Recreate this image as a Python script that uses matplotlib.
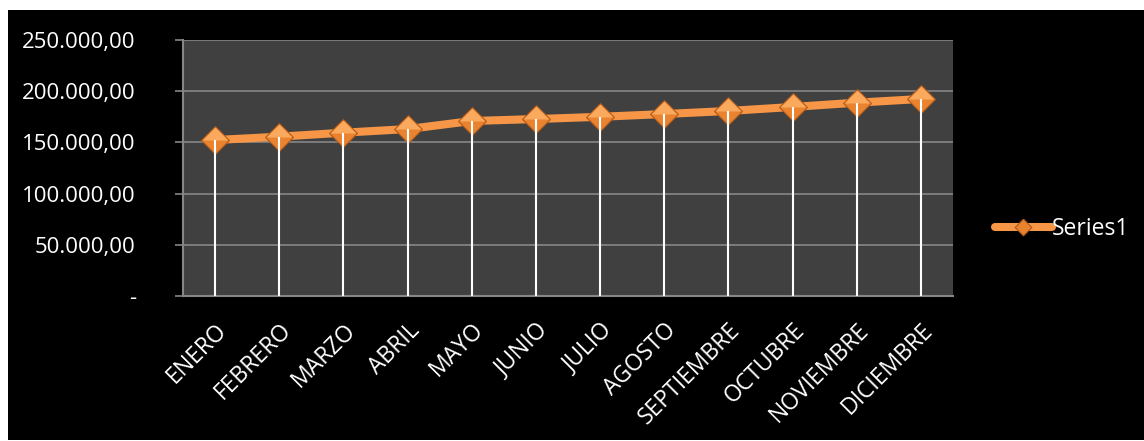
import matplotlib
matplotlib.use("Agg")
import matplotlib.pyplot as plt
from matplotlib.patches import Rectangle
from matplotlib.ticker import FuncFormatter

plt.rcParams['font.family'] = ['Open Sans', 'DejaVu Sans']

meses = ["ENERO", "FEBRERO", "MARZO", "ABRIL", "MAYO", "JUNIO", "JULIO",
         "AGOSTO", "SEPTIEMBRE", "OCTUBRE", "NOVIEMBRE", "DICIEMBRE"]
valores = [152300, 155600, 159500, 163000, 170900, 172800, 175000,
           177700, 180700, 184600, 188800, 192400]
yticks = [0, 50000, 100000, 150000, 200000, 250000]

naranja = '#F79646'
gris = '#868686'


def fmt_es(v, pos=None):
    if v == 0:
        return '-'
    s = '{:,.2f}'.format(v)
    return s.replace(',', 'X').replace('.', ',').replace('X', '.')


fig = plt.figure(figsize=(11.44, 4.41), dpi=100, facecolor='white')
# fondo negro del area del grafico
fig.patches.append(Rectangle((8 / 1144, 1 - 440 / 441), (1144 - 8) / 1144, 430 / 441,
                             transform=fig.transFigure, facecolor='black',
                             edgecolor='none', zorder=-10))

ax = fig.add_axes([183 / 1144, 1 - 296 / 441, 770 / 1144, 256 / 441])
ax.set_facecolor('#404040')

x = list(range(len(meses)))
diamante = [(0, 1), (1, 0), (0, -1), (-1, 0), (0, 1)]
mitad_sup = [(0, 1), (-1, 0), (1, 0), (0, 1)]

ax.plot(x, valores, color=naranja, lw=5.8, solid_capstyle='round',
        marker=diamante, ms=20, mfc='#EA8330', mec='#B05A1A', mew=0.8,
        label='Series1', zorder=3)
ax.plot(x, valores, ls='none', marker=mitad_sup, ms=18.5, mfc='#FBA95C',
        mec='none', zorder=4)
# lineas de caida hasta el eje
ax.vlines(x, 0, valores, colors='white', lw=1.5, zorder=5)

ax.set_xlim(-0.5, len(meses) - 0.5)
ax.set_ylim(0, 250000)
ax.set_yticks(yticks)
ax.yaxis.set_major_formatter(FuncFormatter(fmt_es))
ax.grid(axis='y', color=gris, lw=1.2)
ax.set_axisbelow(True)

ax.set_xticks(x)
ax.set_xticklabels(meses, rotation=45, ha='right', va='top',
                   rotation_mode='anchor')
ax.tick_params(axis='x', length=0, pad=16, colors='white', labelsize=16.5)
ax.tick_params(axis='y', length=6, width=1.2, color=gris, pad=28,
               labelcolor='white', labelsize=16)

for s in ['top', 'right']:
    ax.spines[s].set_visible(False)
for s in ['left', 'bottom']:
    ax.spines[s].set_color(gris)
    ax.spines[s].set_linewidth(1.5)

leg = ax.legend(loc='center left', bbox_to_anchor=(1.042, 0.26), frameon=False,
                handlelength=2.5, handletextpad=0.0, markerscale=0.6,
                fontsize=16.5, labelcolor='white', borderaxespad=0)

fig.savefig('out.png', dpi=100, facecolor='white')
